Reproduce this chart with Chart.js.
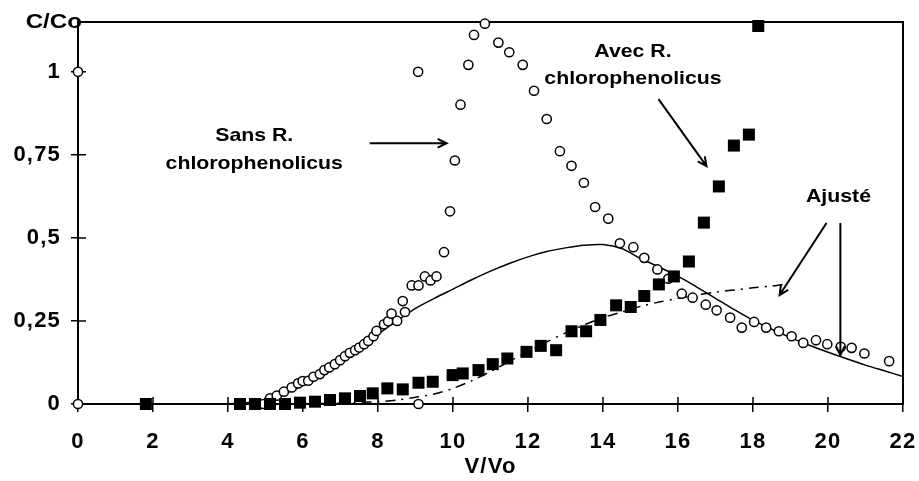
<!DOCTYPE html>
<html><head><meta charset="utf-8">
<script src="https://cdn.jsdelivr.net/npm/chart.js@4.4.0/dist/chart.umd.min.js"></script>
<style>html,body{margin:0;padding:0;background:#fff}</style>
</head><body>
<canvas id="c" width="919" height="481"></canvas>
<script>
// ---- data ----
const sansX = [0,0,4.94,5.12,5.3,5.49,5.7,5.87,5.99,6.14,6.28,6.45,6.57,6.7,6.85,6.99,7.12,7.25,7.39,7.5,7.63,7.74,7.88,7.96,8.16,8.27,8.36,8.51,8.66,8.72,8.9,9.08,9.08,9.07,9.25,9.4,9.56,9.76,9.92,10.05,10.2,10.41,10.56,10.85,11.21,11.5,11.86,12.16,12.5,12.85,13.16,13.49,13.79,14.14,14.45,14.81,15.1,15.45,15.74,16.1,16.39,16.74,17.03,17.39,17.7,18.03,18.35,18.69,19.03,19.34,19.68,19.98,20.34,20.63,20.97,21.63];
const sansY = [0,1,0,0.017,0.025,0.037,0.05,0.062,0.069,0.07,0.082,0.09,0.102,0.11,0.12,0.132,0.144,0.154,0.162,0.17,0.18,0.19,0.204,0.22,0.24,0.249,0.272,0.25,0.31,0.277,0.357,0.357,0,1.0,0.384,0.372,0.384,0.457,0.58,0.733,0.901,1.021,1.111,1.145,1.088,1.059,1.021,0.943,0.858,0.761,0.717,0.666,0.593,0.558,0.484,0.472,0.44,0.405,0.377,0.332,0.32,0.299,0.282,0.26,0.23,0.247,0.23,0.219,0.204,0.184,0.192,0.18,0.172,0.169,0.152,0.129];
const avecX = [1.81,4.32,4.72,5.12,5.52,5.92,6.32,6.72,7.12,7.52,7.86,8.25,8.66,9.08,9.46,9.99,10.26,10.68,11.06,11.45,11.96,12.34,12.75,13.16,13.55,13.93,14.35,14.74,15.1,15.49,15.89,16.29,16.69,17.09,17.49,17.89,18.14];
const avecY = [0,0,0,0,0,0.004,0.007,0.012,0.017,0.024,0.032,0.047,0.044,0.064,0.067,0.087,0.092,0.102,0.12,0.137,0.157,0.175,0.162,0.219,0.219,0.253,0.297,0.292,0.325,0.36,0.384,0.429,0.546,0.655,0.778,0.811,1.138];
const fitSansX = [3.3,4,4.5,5,5.5,6,6.5,7,7.5,8,8.5,9,9.5,10,10.5,11,11.5,12,12.5,13,13.5,14,14.5,15,15.5,16,16.5,17,17.5,18,18.5,19,19.5,20,20.5,21,21.5,22];
const fitSansY = [0,0.001,0.004,0.012,0.03,0.057,0.09,0.128,0.168,0.21,0.25,0.288,0.318,0.346,0.374,0.4,0.423,0.443,0.459,0.47,0.478,0.48,0.468,0.438,0.412,0.385,0.352,0.318,0.284,0.252,0.225,0.2,0.177,0.156,0.136,0.117,0.1,0.083];
const fitAvecX = [5,6,7,8,8.5,9,9.5,10,10.5,11,11.5,12,12.5,13,13.5,14,14.5,15,15.5,16,16.5,17,17.5,18,18.5,18.8];
const fitAvecY = [0,0.001,0.003,0.007,0.012,0.02,0.03,0.047,0.07,0.098,0.128,0.158,0.187,0.214,0.238,0.26,0.277,0.294,0.307,0.318,0.328,0.337,0.343,0.35,0.355,0.36];
const xTickVals = [0,2,4,6,8,10,12,14,16,18,20,22];
const yTickVals = [0,0.25,0.5,0.75,1];
const yTickLabels = ['0','0,25','0,5','0,75','1'];
const yAxisLabel = 'C/Co';
const xAxisLabel = 'V/Vo';
// annotations in data units
const notes = [
  {lines:['Sans R.','chlorophenolicus'], x:4.7, ys:[0.806,0.722]},
  {lines:['Avec R.','chlorophenolicus'], x:14.8, ys:[1.059,0.978]},
  {lines:['Ajusté'], x:20.28, ys:[0.623]}
];
const arrows = [
  [7.78,0.785,9.83,0.785],
  [15.48,0.918,16.76,0.716],
  [19.96,0.545,18.71,0.328],
  [20.33,0.545,20.33,0.147]
];

const pts = (xs, ys) => xs.map((v,i)=>({x:v, y:ys[i]}));
const FONT = '"Liberation Sans", Arial, sans-serif';
const STRETCH = 1.15;

function wideText(ctx, t, x, y) {
  ctx.save();
  ctx.translate(x, y);
  ctx.scale(STRETCH, 1);
  ctx.fillText(t, 0, 0);
  ctx.restore();
}

const deco = {
  id:'deco',
  beforeDraw(chart){ chart.ctx.letterSpacing = '1.2px'; },
  beforeDatasetsDraw(chart){
    const {ctx, chartArea:a, scales:{x,y}} = chart;
    ctx.save();
    ctx.setLineDash([]);
    ctx.strokeStyle = '#000';
    ctx.lineWidth = 2;
    ctx.strokeRect(a.left, a.top, a.right-a.left, a.bottom-a.top);
    // inner half of the crossing tick marks
    ctx.lineWidth = 1.5;
    ctx.beginPath();
    xTickVals.forEach(v=>{const px=x.getPixelForValue(v); ctx.moveTo(px,a.bottom-7); ctx.lineTo(px,a.bottom);});
    yTickVals.forEach(v=>{const py=y.getPixelForValue(v); ctx.moveTo(a.left,py); ctx.lineTo(a.left+8,py);});
    ctx.stroke();
    ctx.restore();
  },
  afterDatasetsDraw(chart){
    const {ctx, chartArea:a, scales:{x,y}} = chart;
    ctx.save();
    ctx.setLineDash([]);
    ctx.fillStyle = '#000';
    ctx.strokeStyle = '#000';
    ctx.letterSpacing = '0px';
    ctx.font = 'bold 18.5px ' + FONT;
    ctx.textAlign = 'center';
    ctx.textBaseline = 'middle';
    notes.forEach(n=>{
      n.lines.forEach((t,i)=>wideText(ctx, t, x.getPixelForValue(n.x), y.getPixelForValue(n.ys[i])));
    });
    ctx.lineWidth = 2;
    arrows.forEach(([x1,y1,x2,y2])=>{
      const p1=[x.getPixelForValue(x1), y.getPixelForValue(y1)];
      const p2=[x.getPixelForValue(x2), y.getPixelForValue(y2)];
      const ang = Math.atan2(p2[1]-p1[1], p2[0]-p1[0]);
      ctx.beginPath();
      ctx.moveTo(p1[0],p1[1]); ctx.lineTo(p2[0],p2[1]);
      const L=10, w=0.45;
      ctx.moveTo(p2[0]-L*Math.cos(ang-w), p2[1]-L*Math.sin(ang-w));
      ctx.lineTo(p2[0],p2[1]);
      ctx.lineTo(p2[0]-L*Math.cos(ang+w), p2[1]-L*Math.sin(ang+w));
      ctx.stroke();
    });
    // y axis title at the top of the axis
    ctx.font = 'bold 21px ' + FONT;
    ctx.textAlign = 'right';
    ctx.save();
    ctx.translate(a.left+4, a.top);
    ctx.scale(STRETCH,1);
    ctx.fillText(yAxisLabel, 0, 0);
    ctx.restore();
    ctx.restore();
  }
};

const outerTicks = (len) => ({display:true, drawOnChartArea:false, drawTicks:true, tickLength:len, color:'#000', lineWidth:1.5});

new Chart(document.getElementById('c'), {
  type:'scatter',
  data:{datasets:[
    {label:'Avec R. chlorophenolicus', data:pts(avecX,avecY), pointStyle:'rect', pointRadius:8.5, backgroundColor:'#000', borderColor:'#000', borderWidth:0, order:0, clip:false},
    {label:'Sans R. chlorophenolicus', data:pts(sansX,sansY), pointStyle:'circle', pointRadius:4.6, backgroundColor:'#fff', borderColor:'#000', borderWidth:1.5, order:1, clip:false},
    {label:'Ajusté (sans)', data:pts(fitSansX,fitSansY), showLine:true, pointRadius:0, borderColor:'#000', borderWidth:1.5, tension:0.3, order:2},
    {label:'Ajusté (avec)', data:pts(fitAvecX,fitAvecY), showLine:true, pointRadius:0, borderColor:'#000', borderWidth:1.5, borderDash:[10,6,2,6], tension:0.3, order:3}
  ]},
  options:{
    responsive:false, animation:false,
    layout:{padding:{top:22,right:16,left:0,bottom:0}},
    plugins:{legend:{display:false}, tooltip:{enabled:false}},
    scales:{
      x:{type:'linear', min:0, max:22,
        afterBuildTicks:s=>{s.ticks = xTickVals.map(v=>({value:v}));},
        afterFit:s=>{s.height = 77; s.paddingLeft = 0; s.paddingRight = 0;},
        grid:outerTicks(8), border:{display:false},
        ticks:{padding:17, color:'#000', font:{family:FONT, size:22, weight:'bold'}, maxRotation:0},
        title:{display:true, text:xAxisLabel, color:'#000', font:{family:FONT, size:22, weight:'bold'}, padding:{top:0,bottom:1}}
      },
      y:{type:'linear', min:0, max:1.15,
        afterBuildTicks:s=>{s.ticks = yTickVals.map(v=>({value:v}));},
        afterFit:s=>{s.width = 78; s.paddingTop = 0; s.paddingBottom = 0;},
        grid:outerTicks(7), border:{display:false},
        ticks:{padding:10, color:'#000', font:{family:FONT, size:22, weight:'bold'},
          callback:(v)=>{const i=yTickVals.indexOf(v); return i>=0?yTickLabels[i]:'';}}
      }
    }
  },
  plugins:[deco]
});
</script>
</body></html>
